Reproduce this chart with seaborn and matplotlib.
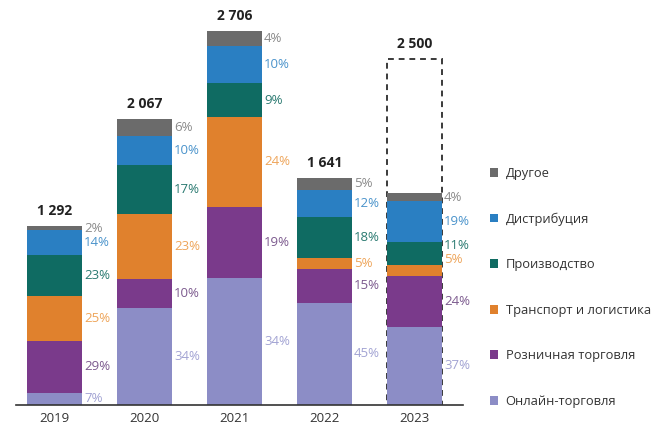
import matplotlib
matplotlib.use("Agg")
import matplotlib.pyplot as plt
from matplotlib.patches import Patch
import seaborn as sns
import numpy as np

# Market volume by year and segment shares (%)
years = ["2019", "2020", "2021", "2022", "2023"]
totals = [1292, 2067, 2706, 1641, 2500]
# 2023: filled part is the volume already realised, dashed frame is the full-year forecast
realised = [1292, 2067, 2706, 1641, 1534]

segments = ["Онлайн-торговля", "Розничная торговля", "Транспорт и логистика",
            "Производство", "Дистрибуция", "Другое"]
online = [7, 34, 34, 45, 37]
retail = [29, 10, 19, 15, 24]
transport = [25, 23, 24, 5, 5]
production = [23, 17, 9, 18, 11]
distribution = [14, 10, 10, 12, 19]
other = [2, 6, 4, 5, 4]
shares = [online, retail, transport, production, distribution, other]

bar_colors = ["#8c8dc6", "#7a3a8b", "#e0812d", "#0f6b62", "#2a7fc2", "#6b6b6b"]
text_colors = ["#a2a3d3", "#7c5a8e", "#eea55a", "#2a7a71", "#4a93cb", "#8a8a8a"]

sns.set_theme(style="white")
plt.rcParams["font.family"] = ["Open Sans", "DejaVu Sans"]

fig = plt.figure(figsize=(6.59, 4.26), dpi=100)
W, H = 659, 426
ax = fig.add_axes([16 / W, 1 - 405 / H, (463 - 16) / W, (405 - 10) / H])

bar_w = 0.61
share_arr = np.array(shares, dtype=float)
cum = np.cumsum(share_arr, axis=0)  # bottom-up cumulative shares
real = np.array(realised, dtype=float)

# Forecast frame for the last year (drawn behind the stack)
ax.bar(4, totals[4], width=bar_w, fill=False, edgecolor="#3a3a3a",
       linestyle=(0, (3, 2.5)), linewidth=1.4, zorder=1)

# Stacked bars: overlay cumulative heights from top layer down
for k in range(len(segments) - 1, -1, -1):
    heights = real * cum[k] / 100.0
    sns.barplot(x=years, y=heights, color=bar_colors[k], saturation=1,
                width=bar_w, linewidth=0, ax=ax, zorder=2)

# Percentage labels to the right of each segment
nudge = {(4, 3): 6, (4, 2): 8}
for i in range(len(years)):
    for k in range(len(segments)):
        lo = real[i] * (cum[k][i] - share_arr[k][i]) / 100.0
        hi = real[i] * cum[k][i] / 100.0
        ax.annotate(f"{int(share_arr[k][i])}%", xy=(i + bar_w / 2, (lo + hi) / 2),
                    xytext=(1.5, nudge.get((i, k), 0)), textcoords="offset points",
                    ha="left", va="center", fontsize=9.5, color=text_colors[k])

# Totals above bars
for i, t in enumerate(totals):
    label = f"{t:,}".replace(",", " ")
    ax.annotate(label, xy=(i, t), xytext=(0, 6), textcoords="offset points",
                ha="center", va="bottom", fontsize=10, fontweight="bold",
                color="#222222")

ax.set_xlim(-0.428, 4.54)
ax.set_ylim(0, 2858)
ax.set_yticks([])
ax.set_ylabel("")
ax.set_xlabel("")
for s in ["top", "right", "left"]:
    ax.spines[s].set_visible(False)
ax.spines["bottom"].set_color("#333333")
ax.spines["bottom"].set_linewidth(1.2)
ax.tick_params(axis="x", length=0, pad=5, labelsize=9.5, labelcolor="#333333")

handles = [Patch(facecolor=bar_colors[k], edgecolor="none", label=segments[k])
           for k in range(len(segments) - 1, -1, -1)]
fig.legend(handles=handles, loc="upper left",
           bbox_to_anchor=(478 / W, 1 - 155 / H), frameon=False,
           fontsize=9.3, handlelength=0.68, handleheight=0.68,
           handletextpad=0.55, labelspacing=2.52, labelcolor="#333333")

fig.savefig("out.png", dpi=100)
